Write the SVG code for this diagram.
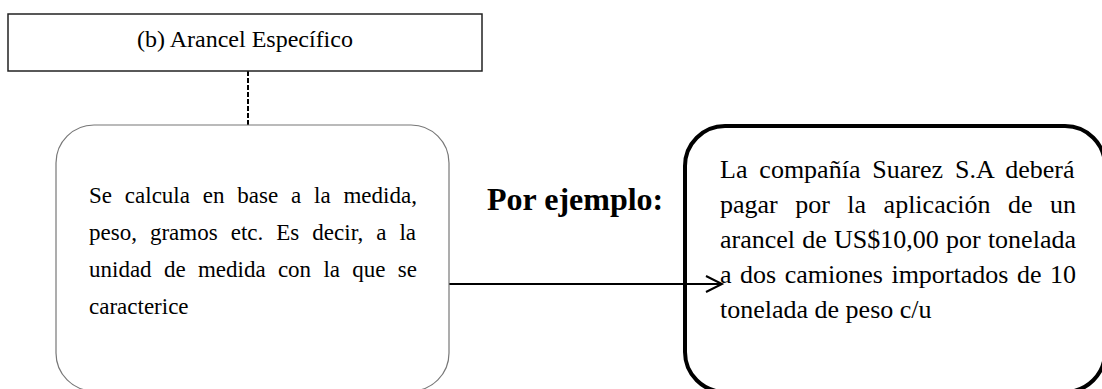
<svg xmlns="http://www.w3.org/2000/svg" width="1102" height="389" viewBox="0 0 1102 389">
<style>
.t{font-family:"Liberation Serif","Times New Roman",serif;fill:#000}
.body{font-size:23px}
.rbody{font-size:26px}
</style>
<defs>
<marker id="arr" markerWidth="20" markerHeight="20" refX="17" refY="9" orient="auto" markerUnits="userSpaceOnUse">
<path d="M1,1 L17,9 L1,17" fill="none" stroke="#000" stroke-width="2"/>
</marker>
</defs>
<rect width="1102" height="389" fill="#fff"/>
<g id="connectors">
<line x1="248" y1="71" x2="248" y2="125" stroke="#000" stroke-width="2" stroke-dasharray="5 2"/>
<line x1="449" y1="284" x2="722" y2="284" stroke="#000" stroke-width="2" marker-end="url(#arr)"/>
</g>
<g id="node-title">
<rect x="8" y="14" width="474" height="57" fill="none" stroke="#222" stroke-width="1.5"/>
<text class="t" x="245" y="47" font-size="24" text-anchor="middle">(b) Arancel Específico</text>
</g>
<g id="node-definition">
<rect x="56" y="125" width="393" height="266" rx="38" ry="38" fill="none" stroke="#777" stroke-width="1.2"/>
<text class="t body" x="89" y="203" word-spacing="7.08">Se calcula en base a la medida,</text>
<text class="t body" x="89" y="240" word-spacing="7.3">peso, gramos etc. Es decir, a la</text>
<text class="t body" x="89" y="277" word-spacing="6.55">unidad de medida con la que se</text>
<text class="t body" x="89" y="314">caracterice</text>
</g>
<g id="label-ejemplo">
<text class="t" x="487" y="210" font-size="32" font-weight="bold">Por ejemplo:</text>
</g>
<g id="node-example">
<rect x="685" y="126" width="420" height="266" rx="40" ry="40" fill="none" stroke="#000" stroke-width="4"/>
<text class="t rbody" x="720" y="178" word-spacing="5.43">La compañía Suarez S.A deberá</text>
<text class="t rbody" x="720" y="213" word-spacing="10.98">pagar por la aplicación de un</text>
<text class="t rbody" x="720" y="248" word-spacing="0.73">arancel de US$10,00 por tonelada</text>
<text class="t rbody" x="720" y="283" word-spacing="2.02">a dos camiones importados de 10</text>
<text class="t rbody" x="720" y="318">tonelada de peso c/u</text>
</g>
</svg>
